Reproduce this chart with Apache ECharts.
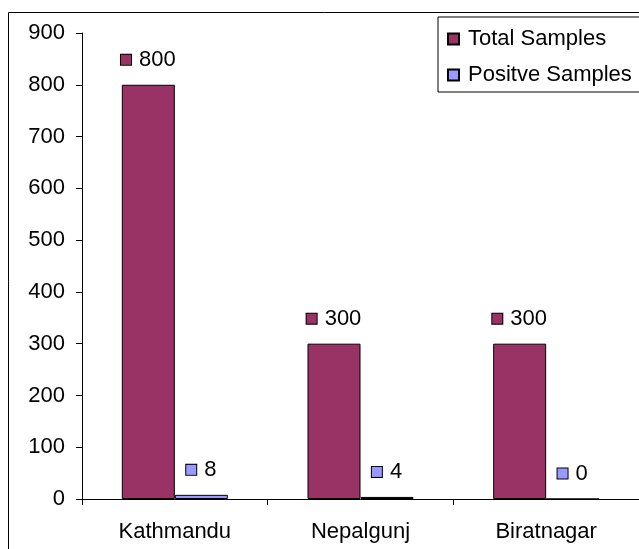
<!DOCTYPE html>
<html>
<head>
<meta charset="utf-8">
<script src="https://cdn.jsdelivr.net/npm/echarts@6/dist/echarts.min.js"></script>
<style>
  html, body { margin: 0; padding: 0; background: #fff; }
  #chart { width: 639px; height: 549px; }
</style>
</head>
<body>
<div id="chart"></div>
<script>
// Sample counts per site
var sites = ['Kathmandu', 'Nepalgunj', 'Biratnagar'];
var totalSamples = [800, 300, 300];
var positiveSamples = [8, 4, 0];
var seriesNames = ['Total Samples', 'Positve Samples'];
var yTicks = { min: 0, max: 900, step: 100 };

var FONT = 'Liberation Sans, Arial, sans-serif';
var FONT_SIZE = 22;
var COLORS = ['#993366', '#9999FF'];

function valueLabel(color) {
  return {
    show: true,
    position: 'top',
    distance: 14,
    formatter: function (p) { return '{s|}{v|' + p.value + '}'; },
    rich: {
      s: { width: 10, height: 10, backgroundColor: color, borderColor: '#000', borderWidth: 1 },
      v: { fontSize: FONT_SIZE, fontFamily: FONT, color: '#000', padding: [0, 0, 0, 8] }
    }
  };
}

var chart = echarts.init(document.getElementById('chart'), null, { renderer: 'canvas' });
chart.setOption({
  animation: false,
  backgroundColor: '#fff',
  textStyle: { fontFamily: FONT, color: '#000' },
  graphic: [{
    type: 'rect',
    shape: { x: 8.5, y: 12.5, width: 700, height: 600 },
    style: { fill: 'none', stroke: '#000', lineWidth: 1 },
    silent: true,
    z: -1
  }],
  grid: { left: 82, top: 33, right: 0, bottom: 50, containLabel: false },
  legend: {
    orient: 'vertical',
    left: 438,
    top: 17,
    padding: [11, 30, 6, 9],
    itemGap: 14,
    itemWidth: 11,
    itemHeight: 11,
    icon: 'rect',
    borderColor: '#000',
    borderWidth: 1,
    backgroundColor: '#fff',
    textStyle: { fontSize: FONT_SIZE, fontFamily: FONT, color: '#000', padding: [0, 0, 0, 4] },
    data: seriesNames
  },
  xAxis: {
    type: 'category',
    data: sites,
    axisLine: { lineStyle: { color: '#000', width: 1 } },
    axisTick: { show: true, alignWithLabel: false, length: 6, lineStyle: { color: '#000' } },
    axisLabel: { fontSize: FONT_SIZE, fontFamily: FONT, color: '#000', margin: 22 },
    splitLine: { show: false }
  },
  yAxis: {
    type: 'value',
    min: yTicks.min,
    max: yTicks.max,
    interval: yTicks.step,
    axisLine: { show: true, lineStyle: { color: '#000', width: 1 } },
    axisTick: { show: true, length: 6, lineStyle: { color: '#000' } },
    axisLabel: { fontSize: FONT_SIZE, fontFamily: FONT, color: '#000', margin: 17 },
    splitLine: { show: false }
  },
  series: [{
    name: seriesNames[0],
    type: 'bar',
    data: totalSamples,
    barGap: '0%',
    barCategoryGap: '42.9%',
    itemStyle: { color: COLORS[0], borderColor: '#000', borderWidth: 1 },
    label: valueLabel(COLORS[0])
  }, {
    name: seriesNames[1],
    type: 'bar',
    data: positiveSamples,
    barGap: '0%',
    barCategoryGap: '42.9%',
    itemStyle: { color: COLORS[1], borderColor: '#000', borderWidth: 1 },
    label: valueLabel(COLORS[1])
  }]
});
</script>
</body>
</html>
